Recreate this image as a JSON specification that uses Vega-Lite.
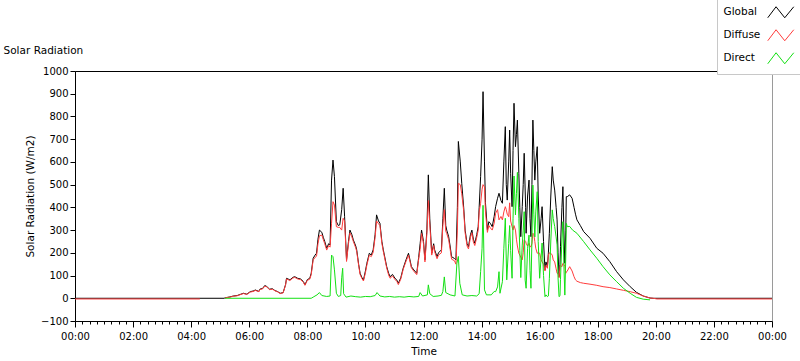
{
"$schema": "https://vega.github.io/schema/vega-lite/v6.json",
"width": 697, "height": 250,
"autosize": {"type": "none"},
"padding": {"left": 75, "top": 71, "right": 28, "bottom": 40},
"background": "white",
"config": {
 "view": {"stroke": "#9a9a9a", "strokeWidth": 1},
 "axis": {"grid": false, "labelFont": "DejaVu Sans", "titleFont": "DejaVu Sans", "labelColor": "#000", "titleColor": "#000", "domainColor": "#000", "tickColor": "#000", "titleFontWeight": "normal"}
},
"title": {"text": "Solar Radiation", "anchor": "start", "dx": -22, "dy": 66, "offset": 0, "baseline": "alphabetic", "fontSize": 10.5, "fontWeight": "normal", "font": "DejaVu Sans", "color": "#000"},
"data": {"values": [
{"s":"Global","t":"2024-01-01T00:00","v":0},{"s":"Global","t":"2024-01-01T05:08","v":0},{"s":"Global","t":"2024-01-01T05:10","v":2},{"s":"Global","t":"2024-01-01T05:20","v":6},{"s":"Global","t":"2024-01-01T05:27","v":10},{"s":"Global","t":"2024-01-01T05:35","v":12},{"s":"Global","t":"2024-01-01T05:48","v":22},{"s":"Global","t":"2024-01-01T05:55","v":18},{"s":"Global","t":"2024-01-01T06:02","v":29},{"s":"Global","t":"2024-01-01T06:10","v":33},{"s":"Global","t":"2024-01-01T06:12","v":37},{"s":"Global","t":"2024-01-01T06:20","v":30},{"s":"Global","t":"2024-01-01T06:22","v":40},{"s":"Global","t":"2024-01-01T06:28","v":44},{"s":"Global","t":"2024-01-01T06:32","v":56},{"s":"Global","t":"2024-01-01T06:36","v":52},{"s":"Global","t":"2024-01-01T06:42","v":40},{"s":"Global","t":"2024-01-01T06:48","v":42},{"s":"Global","t":"2024-01-01T06:53","v":34},{"s":"Global","t":"2024-01-01T06:58","v":30},{"s":"Global","t":"2024-01-01T07:04","v":22},{"s":"Global","t":"2024-01-01T07:10","v":25},{"s":"Global","t":"2024-01-01T07:15","v":60},{"s":"Global","t":"2024-01-01T07:17","v":88},{"s":"Global","t":"2024-01-01T07:24","v":81},{"s":"Global","t":"2024-01-01T07:30","v":92},{"s":"Global","t":"2024-01-01T07:34","v":95},{"s":"Global","t":"2024-01-01T07:40","v":88},{"s":"Global","t":"2024-01-01T07:46","v":85},{"s":"Global","t":"2024-01-01T07:52","v":73},{"s":"Global","t":"2024-01-01T07:55","v":59},{"s":"Global","t":"2024-01-01T08:00","v":82},{"s":"Global","t":"2024-01-01T08:05","v":88},{"s":"Global","t":"2024-01-01T08:08","v":110},{"s":"Global","t":"2024-01-01T08:12","v":176},{"s":"Global","t":"2024-01-01T08:16","v":190},{"s":"Global","t":"2024-01-01T08:19","v":198},{"s":"Global","t":"2024-01-01T08:22","v":260},{"s":"Global","t":"2024-01-01T08:25","v":300},{"s":"Global","t":"2024-01-01T08:30","v":290},{"s":"Global","t":"2024-01-01T08:33","v":268},{"s":"Global","t":"2024-01-01T08:36","v":250},{"s":"Global","t":"2024-01-01T08:40","v":220},{"s":"Global","t":"2024-01-01T08:44","v":240},{"s":"Global","t":"2024-01-01T08:47","v":235},{"s":"Global","t":"2024-01-01T08:50","v":520},{"s":"Global","t":"2024-01-01T08:53","v":608},{"s":"Global","t":"2024-01-01T08:56","v":535},{"s":"Global","t":"2024-01-01T09:00","v":337},{"s":"Global","t":"2024-01-01T09:04","v":320},{"s":"Global","t":"2024-01-01T09:07","v":323},{"s":"Global","t":"2024-01-01T09:11","v":390},{"s":"Global","t":"2024-01-01T09:14","v":484},{"s":"Global","t":"2024-01-01T09:17","v":359},{"s":"Global","t":"2024-01-01T09:21","v":169},{"s":"Global","t":"2024-01-01T09:25","v":250},{"s":"Global","t":"2024-01-01T09:28","v":300},{"s":"Global","t":"2024-01-01T09:32","v":280},{"s":"Global","t":"2024-01-01T09:35","v":257},{"s":"Global","t":"2024-01-01T09:40","v":230},{"s":"Global","t":"2024-01-01T09:42","v":213},{"s":"Global","t":"2024-01-01T09:46","v":150},{"s":"Global","t":"2024-01-01T09:49","v":110},{"s":"Global","t":"2024-01-01T09:53","v":90},{"s":"Global","t":"2024-01-01T09:56","v":81},{"s":"Global","t":"2024-01-01T10:00","v":120},{"s":"Global","t":"2024-01-01T10:03","v":154},{"s":"Global","t":"2024-01-01T10:08","v":198},{"s":"Global","t":"2024-01-01T10:12","v":190},{"s":"Global","t":"2024-01-01T10:16","v":213},{"s":"Global","t":"2024-01-01T10:20","v":280},{"s":"Global","t":"2024-01-01T10:23","v":367},{"s":"Global","t":"2024-01-01T10:27","v":340},{"s":"Global","t":"2024-01-01T10:30","v":330},{"s":"Global","t":"2024-01-01T10:34","v":250},{"s":"Global","t":"2024-01-01T10:37","v":213},{"s":"Global","t":"2024-01-01T10:42","v":160},{"s":"Global","t":"2024-01-01T10:44","v":139},{"s":"Global","t":"2024-01-01T10:48","v":110},{"s":"Global","t":"2024-01-01T10:51","v":95},{"s":"Global","t":"2024-01-01T10:56","v":105},{"s":"Global","t":"2024-01-01T11:01","v":88},{"s":"Global","t":"2024-01-01T11:05","v":80},{"s":"Global","t":"2024-01-01T11:08","v":66},{"s":"Global","t":"2024-01-01T11:13","v":90},{"s":"Global","t":"2024-01-01T11:18","v":132},{"s":"Global","t":"2024-01-01T11:24","v":170},{"s":"Global","t":"2024-01-01T11:29","v":198},{"s":"Global","t":"2024-01-01T11:33","v":160},{"s":"Global","t":"2024-01-01T11:35","v":139},{"s":"Global","t":"2024-01-01T11:40","v":125},{"s":"Global","t":"2024-01-01T11:46","v":110},{"s":"Global","t":"2024-01-01T11:50","v":180},{"s":"Global","t":"2024-01-01T11:53","v":240},{"s":"Global","t":"2024-01-01T11:56","v":300},{"s":"Global","t":"2024-01-01T12:00","v":250},{"s":"Global","t":"2024-01-01T12:03","v":169},{"s":"Global","t":"2024-01-01T12:07","v":300},{"s":"Global","t":"2024-01-01T12:10","v":543},{"s":"Global","t":"2024-01-01T12:13","v":350},{"s":"Global","t":"2024-01-01T12:17","v":198},{"s":"Global","t":"2024-01-01T12:21","v":240},{"s":"Global","t":"2024-01-01T12:23","v":213},{"s":"Global","t":"2024-01-01T12:28","v":183},{"s":"Global","t":"2024-01-01T12:31","v":200},{"s":"Global","t":"2024-01-01T12:37","v":213},{"s":"Global","t":"2024-01-01T12:40","v":350},{"s":"Global","t":"2024-01-01T12:43","v":484},{"s":"Global","t":"2024-01-01T12:46","v":320},{"s":"Global","t":"2024-01-01T12:48","v":300},{"s":"Global","t":"2024-01-01T12:52","v":271},{"s":"Global","t":"2024-01-01T12:55","v":230},{"s":"Global","t":"2024-01-01T12:58","v":183},{"s":"Global","t":"2024-01-01T13:04","v":175},{"s":"Global","t":"2024-01-01T13:07","v":169},{"s":"Global","t":"2024-01-01T13:10","v":400},{"s":"Global","t":"2024-01-01T13:12","v":690},{"s":"Global","t":"2024-01-01T13:16","v":600},{"s":"Global","t":"2024-01-01T13:19","v":506},{"s":"Global","t":"2024-01-01T13:23","v":400},{"s":"Global","t":"2024-01-01T13:26","v":300},{"s":"Global","t":"2024-01-01T13:30","v":240},{"s":"Global","t":"2024-01-01T13:33","v":227},{"s":"Global","t":"2024-01-01T13:37","v":280},{"s":"Global","t":"2024-01-01T13:40","v":300},{"s":"Global","t":"2024-01-01T13:43","v":260},{"s":"Global","t":"2024-01-01T13:46","v":242},{"s":"Global","t":"2024-01-01T13:50","v":280},{"s":"Global","t":"2024-01-01T13:53","v":315},{"s":"Global","t":"2024-01-01T13:55","v":400},{"s":"Global","t":"2024-01-01T13:58","v":535},{"s":"Global","t":"2024-01-01T14:01","v":700},{"s":"Global","t":"2024-01-01T14:03","v":909},{"s":"Global","t":"2024-01-01T14:06","v":600},{"s":"Global","t":"2024-01-01T14:08","v":420},{"s":"Global","t":"2024-01-01T14:12","v":300},{"s":"Global","t":"2024-01-01T14:15","v":337},{"s":"Global","t":"2024-01-01T14:18","v":330},{"s":"Global","t":"2024-01-01T14:22","v":315},{"s":"Global","t":"2024-01-01T14:26","v":360},{"s":"Global","t":"2024-01-01T14:29","v":403},{"s":"Global","t":"2024-01-01T14:33","v":440},{"s":"Global","t":"2024-01-01T14:36","v":462},{"s":"Global","t":"2024-01-01T14:40","v":430},{"s":"Global","t":"2024-01-01T14:43","v":418},{"s":"Global","t":"2024-01-01T14:46","v":600},{"s":"Global","t":"2024-01-01T14:49","v":755},{"s":"Global","t":"2024-01-01T14:51","v":500},{"s":"Global","t":"2024-01-01T14:53","v":432},{"s":"Global","t":"2024-01-01T14:56","v":600},{"s":"Global","t":"2024-01-01T14:58","v":740},{"s":"Global","t":"2024-01-01T15:00","v":550},{"s":"Global","t":"2024-01-01T15:03","v":403},{"s":"Global","t":"2024-01-01T15:05","v":650},{"s":"Global","t":"2024-01-01T15:07","v":858},{"s":"Global","t":"2024-01-01T15:10","v":667},{"s":"Global","t":"2024-01-01T15:12","v":720},{"s":"Global","t":"2024-01-01T15:14","v":784},{"s":"Global","t":"2024-01-01T15:17","v":550},{"s":"Global","t":"2024-01-01T15:19","v":400},{"s":"Global","t":"2024-01-01T15:21","v":271},{"s":"Global","t":"2024-01-01T15:24","v":403},{"s":"Global","t":"2024-01-01T15:26","v":500},{"s":"Global","t":"2024-01-01T15:28","v":638},{"s":"Global","t":"2024-01-01T15:31","v":400},{"s":"Global","t":"2024-01-01T15:32","v":286},{"s":"Global","t":"2024-01-01T15:35","v":450},{"s":"Global","t":"2024-01-01T15:38","v":520},{"s":"Global","t":"2024-01-01T15:40","v":350},{"s":"Global","t":"2024-01-01T15:42","v":271},{"s":"Global","t":"2024-01-01T15:44","v":500},{"s":"Global","t":"2024-01-01T15:46","v":784},{"s":"Global","t":"2024-01-01T15:48","v":650},{"s":"Global","t":"2024-01-01T15:50","v":520},{"s":"Global","t":"2024-01-01T15:52","v":600},{"s":"Global","t":"2024-01-01T15:55","v":667},{"s":"Global","t":"2024-01-01T15:57","v":450},{"s":"Global","t":"2024-01-01T16:00","v":286},{"s":"Global","t":"2024-01-01T16:03","v":350},{"s":"Global","t":"2024-01-01T16:05","v":403},{"s":"Global","t":"2024-01-01T16:08","v":250},{"s":"Global","t":"2024-01-01T16:11","v":125},{"s":"Global","t":"2024-01-01T16:13","v":160},{"s":"Global","t":"2024-01-01T16:16","v":139},{"s":"Global","t":"2024-01-01T16:18","v":200},{"s":"Global","t":"2024-01-01T16:20","v":286},{"s":"Global","t":"2024-01-01T16:23","v":450},{"s":"Global","t":"2024-01-01T16:26","v":579},{"s":"Global","t":"2024-01-01T16:28","v":520},{"s":"Global","t":"2024-01-01T16:31","v":476},{"s":"Global","t":"2024-01-01T16:34","v":400},{"s":"Global","t":"2024-01-01T16:36","v":345},{"s":"Global","t":"2024-01-01T16:38","v":200},{"s":"Global","t":"2024-01-01T16:40","v":95},{"s":"Global","t":"2024-01-01T16:42","v":150},{"s":"Global","t":"2024-01-01T16:43","v":227},{"s":"Global","t":"2024-01-01T16:46","v":400},{"s":"Global","t":"2024-01-01T16:48","v":491},{"s":"Global","t":"2024-01-01T16:50","v":300},{"s":"Global","t":"2024-01-01T16:52","v":154},{"s":"Global","t":"2024-01-01T16:54","v":300},{"s":"Global","t":"2024-01-01T16:55","v":447},{"s":"Global","t":"2024-01-01T16:57","v":447},{"s":"Global","t":"2024-01-01T17:02","v":455},{"s":"Global","t":"2024-01-01T17:07","v":440},{"s":"Global","t":"2024-01-01T17:11","v":400},{"s":"Global","t":"2024-01-01T17:14","v":370},{"s":"Global","t":"2024-01-01T17:17","v":345},{"s":"Global","t":"2024-01-01T17:24","v":320},{"s":"Global","t":"2024-01-01T17:31","v":293},{"s":"Global","t":"2024-01-01T17:44","v":264},{"s":"Global","t":"2024-01-01T17:58","v":220},{"s":"Global","t":"2024-01-01T18:11","v":198},{"s":"Global","t":"2024-01-01T18:25","v":161},{"s":"Global","t":"2024-01-01T18:39","v":117},{"s":"Global","t":"2024-01-01T18:53","v":81},{"s":"Global","t":"2024-01-01T19:07","v":51},{"s":"Global","t":"2024-01-01T19:20","v":26},{"s":"Global","t":"2024-01-01T19:34","v":10},{"s":"Global","t":"2024-01-01T19:48","v":1},{"s":"Global","t":"2024-01-01T19:55","v":0},{"s":"Global","t":"2024-01-02T00:00","v":0},
{"s":"Diffuse","p":1,"t":"2024-01-01T00:00","v":-3},{"s":"Diffuse","p":1,"t":"2024-01-01T04:18","v":-3},{"s":"Diffuse","p":2,"t":"2024-01-01T05:10","v":2},{"s":"Diffuse","p":2,"t":"2024-01-01T05:20","v":5},{"s":"Diffuse","p":2,"t":"2024-01-01T05:27","v":9},{"s":"Diffuse","p":2,"t":"2024-01-01T05:35","v":11},{"s":"Diffuse","p":2,"t":"2024-01-01T05:48","v":21},{"s":"Diffuse","p":2,"t":"2024-01-01T05:55","v":17},{"s":"Diffuse","p":2,"t":"2024-01-01T06:02","v":27},{"s":"Diffuse","p":2,"t":"2024-01-01T06:10","v":31},{"s":"Diffuse","p":2,"t":"2024-01-01T06:12","v":35},{"s":"Diffuse","p":2,"t":"2024-01-01T06:20","v":29},{"s":"Diffuse","p":2,"t":"2024-01-01T06:22","v":38},{"s":"Diffuse","p":2,"t":"2024-01-01T06:28","v":42},{"s":"Diffuse","p":2,"t":"2024-01-01T06:32","v":53},{"s":"Diffuse","p":2,"t":"2024-01-01T06:36","v":50},{"s":"Diffuse","p":2,"t":"2024-01-01T06:42","v":38},{"s":"Diffuse","p":2,"t":"2024-01-01T06:48","v":40},{"s":"Diffuse","p":2,"t":"2024-01-01T06:53","v":33},{"s":"Diffuse","p":2,"t":"2024-01-01T06:58","v":29},{"s":"Diffuse","p":2,"t":"2024-01-01T07:04","v":21},{"s":"Diffuse","p":2,"t":"2024-01-01T07:10","v":24},{"s":"Diffuse","p":2,"t":"2024-01-01T07:15","v":58},{"s":"Diffuse","p":2,"t":"2024-01-01T07:17","v":85},{"s":"Diffuse","p":2,"t":"2024-01-01T07:24","v":78},{"s":"Diffuse","p":2,"t":"2024-01-01T07:30","v":89},{"s":"Diffuse","p":2,"t":"2024-01-01T07:34","v":92},{"s":"Diffuse","p":2,"t":"2024-01-01T07:40","v":85},{"s":"Diffuse","p":2,"t":"2024-01-01T07:46","v":82},{"s":"Diffuse","p":2,"t":"2024-01-01T07:52","v":70},{"s":"Diffuse","p":2,"t":"2024-01-01T07:55","v":57},{"s":"Diffuse","p":2,"t":"2024-01-01T08:00","v":79},{"s":"Diffuse","p":2,"t":"2024-01-01T08:05","v":84},{"s":"Diffuse","p":2,"t":"2024-01-01T08:08","v":104},{"s":"Diffuse","p":2,"t":"2024-01-01T08:12","v":168},{"s":"Diffuse","p":2,"t":"2024-01-01T08:16","v":180},{"s":"Diffuse","p":2,"t":"2024-01-01T08:19","v":185},{"s":"Diffuse","p":2,"t":"2024-01-01T08:22","v":240},{"s":"Diffuse","p":2,"t":"2024-01-01T08:25","v":275},{"s":"Diffuse","p":2,"t":"2024-01-01T08:30","v":278},{"s":"Diffuse","p":2,"t":"2024-01-01T08:33","v":258},{"s":"Diffuse","p":2,"t":"2024-01-01T08:36","v":240},{"s":"Diffuse","p":2,"t":"2024-01-01T08:40","v":212},{"s":"Diffuse","p":2,"t":"2024-01-01T08:44","v":232},{"s":"Diffuse","p":2,"t":"2024-01-01T08:47","v":225},{"s":"Diffuse","p":2,"t":"2024-01-01T08:50","v":330},{"s":"Diffuse","p":2,"t":"2024-01-01T08:53","v":425},{"s":"Diffuse","p":2,"t":"2024-01-01T08:56","v":410},{"s":"Diffuse","p":2,"t":"2024-01-01T09:00","v":315},{"s":"Diffuse","p":2,"t":"2024-01-01T09:04","v":312},{"s":"Diffuse","p":2,"t":"2024-01-01T09:07","v":312},{"s":"Diffuse","p":2,"t":"2024-01-01T09:11","v":300},{"s":"Diffuse","p":2,"t":"2024-01-01T09:14","v":352},{"s":"Diffuse","p":2,"t":"2024-01-01T09:17","v":340},{"s":"Diffuse","p":2,"t":"2024-01-01T09:21","v":162},{"s":"Diffuse","p":2,"t":"2024-01-01T09:25","v":240},{"s":"Diffuse","p":2,"t":"2024-01-01T09:28","v":288},{"s":"Diffuse","p":2,"t":"2024-01-01T09:32","v":270},{"s":"Diffuse","p":2,"t":"2024-01-01T09:35","v":250},{"s":"Diffuse","p":2,"t":"2024-01-01T09:40","v":222},{"s":"Diffuse","p":2,"t":"2024-01-01T09:42","v":206},{"s":"Diffuse","p":2,"t":"2024-01-01T09:46","v":145},{"s":"Diffuse","p":2,"t":"2024-01-01T09:49","v":105},{"s":"Diffuse","p":2,"t":"2024-01-01T09:53","v":86},{"s":"Diffuse","p":2,"t":"2024-01-01T09:56","v":76},{"s":"Diffuse","p":2,"t":"2024-01-01T10:00","v":112},{"s":"Diffuse","p":2,"t":"2024-01-01T10:03","v":146},{"s":"Diffuse","p":2,"t":"2024-01-01T10:08","v":190},{"s":"Diffuse","p":2,"t":"2024-01-01T10:12","v":183},{"s":"Diffuse","p":2,"t":"2024-01-01T10:16","v":202},{"s":"Diffuse","p":2,"t":"2024-01-01T10:20","v":268},{"s":"Diffuse","p":2,"t":"2024-01-01T10:23","v":340},{"s":"Diffuse","p":2,"t":"2024-01-01T10:27","v":328},{"s":"Diffuse","p":2,"t":"2024-01-01T10:30","v":320},{"s":"Diffuse","p":2,"t":"2024-01-01T10:34","v":242},{"s":"Diffuse","p":2,"t":"2024-01-01T10:37","v":206},{"s":"Diffuse","p":2,"t":"2024-01-01T10:42","v":154},{"s":"Diffuse","p":2,"t":"2024-01-01T10:44","v":133},{"s":"Diffuse","p":2,"t":"2024-01-01T10:48","v":102},{"s":"Diffuse","p":2,"t":"2024-01-01T10:51","v":88},{"s":"Diffuse","p":2,"t":"2024-01-01T10:56","v":98},{"s":"Diffuse","p":2,"t":"2024-01-01T11:01","v":83},{"s":"Diffuse","p":2,"t":"2024-01-01T11:05","v":74},{"s":"Diffuse","p":2,"t":"2024-01-01T11:08","v":60},{"s":"Diffuse","p":2,"t":"2024-01-01T11:13","v":84},{"s":"Diffuse","p":2,"t":"2024-01-01T11:18","v":127},{"s":"Diffuse","p":2,"t":"2024-01-01T11:24","v":163},{"s":"Diffuse","p":2,"t":"2024-01-01T11:29","v":190},{"s":"Diffuse","p":2,"t":"2024-01-01T11:33","v":153},{"s":"Diffuse","p":2,"t":"2024-01-01T11:35","v":134},{"s":"Diffuse","p":2,"t":"2024-01-01T11:40","v":119},{"s":"Diffuse","p":2,"t":"2024-01-01T11:46","v":104},{"s":"Diffuse","p":2,"t":"2024-01-01T11:50","v":172},{"s":"Diffuse","p":2,"t":"2024-01-01T11:53","v":215},{"s":"Diffuse","p":2,"t":"2024-01-01T11:56","v":285},{"s":"Diffuse","p":2,"t":"2024-01-01T12:00","v":240},{"s":"Diffuse","p":2,"t":"2024-01-01T12:03","v":160},{"s":"Diffuse","p":2,"t":"2024-01-01T12:07","v":285},{"s":"Diffuse","p":2,"t":"2024-01-01T12:10","v":430},{"s":"Diffuse","p":2,"t":"2024-01-01T12:13","v":325},{"s":"Diffuse","p":2,"t":"2024-01-01T12:17","v":190},{"s":"Diffuse","p":2,"t":"2024-01-01T12:21","v":232},{"s":"Diffuse","p":2,"t":"2024-01-01T12:23","v":205},{"s":"Diffuse","p":2,"t":"2024-01-01T12:28","v":174},{"s":"Diffuse","p":2,"t":"2024-01-01T12:31","v":190},{"s":"Diffuse","p":2,"t":"2024-01-01T12:37","v":200},{"s":"Diffuse","p":2,"t":"2024-01-01T12:40","v":320},{"s":"Diffuse","p":2,"t":"2024-01-01T12:43","v":390},{"s":"Diffuse","p":2,"t":"2024-01-01T12:46","v":295},{"s":"Diffuse","p":2,"t":"2024-01-01T12:48","v":285},{"s":"Diffuse","p":2,"t":"2024-01-01T12:52","v":258},{"s":"Diffuse","p":2,"t":"2024-01-01T12:55","v":216},{"s":"Diffuse","p":2,"t":"2024-01-01T12:58","v":172},{"s":"Diffuse","p":2,"t":"2024-01-01T13:04","v":165},{"s":"Diffuse","p":2,"t":"2024-01-01T13:07","v":150},{"s":"Diffuse","p":2,"t":"2024-01-01T13:10","v":300},{"s":"Diffuse","p":2,"t":"2024-01-01T13:12","v":506},{"s":"Diffuse","p":2,"t":"2024-01-01T13:16","v":500},{"s":"Diffuse","p":2,"t":"2024-01-01T13:19","v":460},{"s":"Diffuse","p":2,"t":"2024-01-01T13:23","v":385},{"s":"Diffuse","p":2,"t":"2024-01-01T13:26","v":288},{"s":"Diffuse","p":2,"t":"2024-01-01T13:30","v":230},{"s":"Diffuse","p":2,"t":"2024-01-01T13:33","v":217},{"s":"Diffuse","p":2,"t":"2024-01-01T13:37","v":268},{"s":"Diffuse","p":2,"t":"2024-01-01T13:40","v":288},{"s":"Diffuse","p":2,"t":"2024-01-01T13:43","v":248},{"s":"Diffuse","p":2,"t":"2024-01-01T13:46","v":232},{"s":"Diffuse","p":2,"t":"2024-01-01T13:50","v":268},{"s":"Diffuse","p":2,"t":"2024-01-01T13:53","v":300},{"s":"Diffuse","p":2,"t":"2024-01-01T13:55","v":380},{"s":"Diffuse","p":2,"t":"2024-01-01T13:58","v":418},{"s":"Diffuse","p":2,"t":"2024-01-01T14:01","v":480},{"s":"Diffuse","p":2,"t":"2024-01-01T14:03","v":500},{"s":"Diffuse","p":2,"t":"2024-01-01T14:06","v":490},{"s":"Diffuse","p":2,"t":"2024-01-01T14:08","v":380},{"s":"Diffuse","p":2,"t":"2024-01-01T14:12","v":290},{"s":"Diffuse","p":2,"t":"2024-01-01T14:15","v":320},{"s":"Diffuse","p":2,"t":"2024-01-01T14:18","v":310},{"s":"Diffuse","p":2,"t":"2024-01-01T14:22","v":300},{"s":"Diffuse","p":2,"t":"2024-01-01T14:26","v":330},{"s":"Diffuse","p":2,"t":"2024-01-01T14:29","v":374},{"s":"Diffuse","p":2,"t":"2024-01-01T14:33","v":390},{"s":"Diffuse","p":2,"t":"2024-01-01T14:36","v":345},{"s":"Diffuse","p":2,"t":"2024-01-01T14:40","v":360},{"s":"Diffuse","p":2,"t":"2024-01-01T14:43","v":345},{"s":"Diffuse","p":2,"t":"2024-01-01T14:46","v":380},{"s":"Diffuse","p":2,"t":"2024-01-01T14:49","v":403},{"s":"Diffuse","p":2,"t":"2024-01-01T14:51","v":390},{"s":"Diffuse","p":2,"t":"2024-01-01T14:53","v":370},{"s":"Diffuse","p":2,"t":"2024-01-01T14:56","v":359},{"s":"Diffuse","p":2,"t":"2024-01-01T14:58","v":420},{"s":"Diffuse","p":2,"t":"2024-01-01T15:00","v":340},{"s":"Diffuse","p":2,"t":"2024-01-01T15:03","v":315},{"s":"Diffuse","p":2,"t":"2024-01-01T15:05","v":300},{"s":"Diffuse","p":2,"t":"2024-01-01T15:07","v":320},{"s":"Diffuse","p":2,"t":"2024-01-01T15:10","v":300},{"s":"Diffuse","p":2,"t":"2024-01-01T15:12","v":260},{"s":"Diffuse","p":2,"t":"2024-01-01T15:14","v":230},{"s":"Diffuse","p":2,"t":"2024-01-01T15:17","v":198},{"s":"Diffuse","p":2,"t":"2024-01-01T15:19","v":190},{"s":"Diffuse","p":2,"t":"2024-01-01T15:21","v":180},{"s":"Diffuse","p":2,"t":"2024-01-01T15:24","v":169},{"s":"Diffuse","p":2,"t":"2024-01-01T15:26","v":200},{"s":"Diffuse","p":2,"t":"2024-01-01T15:28","v":257},{"s":"Diffuse","p":2,"t":"2024-01-01T15:31","v":250},{"s":"Diffuse","p":2,"t":"2024-01-01T15:32","v":242},{"s":"Diffuse","p":2,"t":"2024-01-01T15:35","v":230},{"s":"Diffuse","p":2,"t":"2024-01-01T15:38","v":242},{"s":"Diffuse","p":2,"t":"2024-01-01T15:40","v":227},{"s":"Diffuse","p":2,"t":"2024-01-01T15:42","v":227},{"s":"Diffuse","p":2,"t":"2024-01-01T15:44","v":240},{"s":"Diffuse","p":2,"t":"2024-01-01T15:46","v":286},{"s":"Diffuse","p":2,"t":"2024-01-01T15:48","v":280},{"s":"Diffuse","p":2,"t":"2024-01-01T15:50","v":250},{"s":"Diffuse","p":2,"t":"2024-01-01T15:52","v":220},{"s":"Diffuse","p":2,"t":"2024-01-01T15:55","v":198},{"s":"Diffuse","p":2,"t":"2024-01-01T15:57","v":200},{"s":"Diffuse","p":2,"t":"2024-01-01T16:00","v":198},{"s":"Diffuse","p":2,"t":"2024-01-01T16:03","v":169},{"s":"Diffuse","p":2,"t":"2024-01-01T16:05","v":160},{"s":"Diffuse","p":2,"t":"2024-01-01T16:08","v":150},{"s":"Diffuse","p":2,"t":"2024-01-01T16:11","v":120},{"s":"Diffuse","p":2,"t":"2024-01-01T16:13","v":145},{"s":"Diffuse","p":2,"t":"2024-01-01T16:16","v":132},{"s":"Diffuse","p":2,"t":"2024-01-01T16:18","v":190},{"s":"Diffuse","p":2,"t":"2024-01-01T16:20","v":200},{"s":"Diffuse","p":2,"t":"2024-01-01T16:23","v":198},{"s":"Diffuse","p":2,"t":"2024-01-01T16:26","v":190},{"s":"Diffuse","p":2,"t":"2024-01-01T16:28","v":169},{"s":"Diffuse","p":2,"t":"2024-01-01T16:31","v":160},{"s":"Diffuse","p":2,"t":"2024-01-01T16:34","v":130},{"s":"Diffuse","p":2,"t":"2024-01-01T16:36","v":110},{"s":"Diffuse","p":2,"t":"2024-01-01T16:38","v":110},{"s":"Diffuse","p":2,"t":"2024-01-01T16:40","v":90},{"s":"Diffuse","p":2,"t":"2024-01-01T16:42","v":139},{"s":"Diffuse","p":2,"t":"2024-01-01T16:43","v":145},{"s":"Diffuse","p":2,"t":"2024-01-01T16:46","v":139},{"s":"Diffuse","p":2,"t":"2024-01-01T16:48","v":154},{"s":"Diffuse","p":2,"t":"2024-01-01T16:50","v":150},{"s":"Diffuse","p":2,"t":"2024-01-01T16:52","v":140},{"s":"Diffuse","p":2,"t":"2024-01-01T16:54","v":110},{"s":"Diffuse","p":2,"t":"2024-01-01T16:55","v":115},{"s":"Diffuse","p":2,"t":"2024-01-01T16:57","v":120},{"s":"Diffuse","p":2,"t":"2024-01-01T17:02","v":139},{"s":"Diffuse","p":2,"t":"2024-01-01T17:07","v":120},{"s":"Diffuse","p":2,"t":"2024-01-01T17:11","v":95},{"s":"Diffuse","p":2,"t":"2024-01-01T17:14","v":81},{"s":"Diffuse","p":2,"t":"2024-01-01T17:17","v":75},{"s":"Diffuse","p":2,"t":"2024-01-01T17:24","v":69},{"s":"Diffuse","p":2,"t":"2024-01-01T17:31","v":66},{"s":"Diffuse","p":2,"t":"2024-01-01T17:44","v":62},{"s":"Diffuse","p":2,"t":"2024-01-01T17:58","v":57},{"s":"Diffuse","p":2,"t":"2024-01-01T18:11","v":51},{"s":"Diffuse","p":2,"t":"2024-01-01T18:25","v":47},{"s":"Diffuse","p":2,"t":"2024-01-01T18:39","v":41},{"s":"Diffuse","p":2,"t":"2024-01-01T18:53","v":35},{"s":"Diffuse","p":2,"t":"2024-01-01T19:07","v":29},{"s":"Diffuse","p":2,"t":"2024-01-01T19:20","v":22},{"s":"Diffuse","p":2,"t":"2024-01-01T19:34","v":10},{"s":"Diffuse","p":2,"t":"2024-01-01T19:48","v":1},{"s":"Diffuse","p":2,"t":"2024-01-01T19:55","v":0},{"s":"Diffuse","p":2,"t":"2024-01-01T20:02","v":-3},{"s":"Diffuse","p":2,"t":"2024-01-02T00:00","v":-3},
{"s":"Direct","t":"2024-01-01T05:10","v":0},{"s":"Direct","t":"2024-01-01T08:08","v":0},{"s":"Direct","t":"2024-01-01T08:12","v":5},{"s":"Direct","t":"2024-01-01T08:20","v":15},{"s":"Direct","t":"2024-01-01T08:25","v":25},{"s":"Direct","t":"2024-01-01T08:30","v":12},{"s":"Direct","t":"2024-01-01T08:40","v":8},{"s":"Direct","t":"2024-01-01T08:47","v":10},{"s":"Direct","t":"2024-01-01T08:50","v":190},{"s":"Direct","t":"2024-01-01T08:53","v":183},{"s":"Direct","t":"2024-01-01T08:56","v":125},{"s":"Direct","t":"2024-01-01T09:00","v":22},{"s":"Direct","t":"2024-01-01T09:04","v":8},{"s":"Direct","t":"2024-01-01T09:09","v":12},{"s":"Direct","t":"2024-01-01T09:11","v":90},{"s":"Direct","t":"2024-01-01T09:13","v":132},{"s":"Direct","t":"2024-01-01T09:15","v":20},{"s":"Direct","t":"2024-01-01T09:20","v":5},{"s":"Direct","t":"2024-01-01T09:30","v":10},{"s":"Direct","t":"2024-01-01T09:40","v":7},{"s":"Direct","t":"2024-01-01T09:50","v":5},{"s":"Direct","t":"2024-01-01T10:00","v":8},{"s":"Direct","t":"2024-01-01T10:10","v":7},{"s":"Direct","t":"2024-01-01T10:20","v":12},{"s":"Direct","t":"2024-01-01T10:24","v":25},{"s":"Direct","t":"2024-01-01T10:30","v":10},{"s":"Direct","t":"2024-01-01T10:40","v":6},{"s":"Direct","t":"2024-01-01T10:50","v":8},{"s":"Direct","t":"2024-01-01T11:00","v":5},{"s":"Direct","t":"2024-01-01T11:10","v":7},{"s":"Direct","t":"2024-01-01T11:20","v":5},{"s":"Direct","t":"2024-01-01T11:30","v":8},{"s":"Direct","t":"2024-01-01T11:40","v":6},{"s":"Direct","t":"2024-01-01T11:50","v":8},{"s":"Direct","t":"2024-01-01T11:53","v":25},{"s":"Direct","t":"2024-01-01T11:58","v":10},{"s":"Direct","t":"2024-01-01T12:08","v":15},{"s":"Direct","t":"2024-01-01T12:10","v":59},{"s":"Direct","t":"2024-01-01T12:13","v":20},{"s":"Direct","t":"2024-01-01T12:20","v":8},{"s":"Direct","t":"2024-01-01T12:30","v":10},{"s":"Direct","t":"2024-01-01T12:37","v":13},{"s":"Direct","t":"2024-01-01T12:40","v":30},{"s":"Direct","t":"2024-01-01T12:43","v":94},{"s":"Direct","t":"2024-01-01T12:46","v":25},{"s":"Direct","t":"2024-01-01T12:55","v":15},{"s":"Direct","t":"2024-01-01T13:05","v":10},{"s":"Direct","t":"2024-01-01T13:09","v":154},{"s":"Direct","t":"2024-01-01T13:12","v":184},{"s":"Direct","t":"2024-01-01T13:15","v":66},{"s":"Direct","t":"2024-01-01T13:20","v":15},{"s":"Direct","t":"2024-01-01T13:30","v":10},{"s":"Direct","t":"2024-01-01T13:40","v":12},{"s":"Direct","t":"2024-01-01T13:50","v":10},{"s":"Direct","t":"2024-01-01T13:55","v":20},{"s":"Direct","t":"2024-01-01T13:58","v":117},{"s":"Direct","t":"2024-01-01T14:01","v":220},{"s":"Direct","t":"2024-01-01T14:03","v":409},{"s":"Direct","t":"2024-01-01T14:06","v":37},{"s":"Direct","t":"2024-01-01T14:10","v":15},{"s":"Direct","t":"2024-01-01T14:20","v":15},{"s":"Direct","t":"2024-01-01T14:26","v":30},{"s":"Direct","t":"2024-01-01T14:29","v":29},{"s":"Direct","t":"2024-01-01T14:33","v":50},{"s":"Direct","t":"2024-01-01T14:36","v":117},{"s":"Direct","t":"2024-01-01T14:38","v":22},{"s":"Direct","t":"2024-01-01T14:43","v":73},{"s":"Direct","t":"2024-01-01T14:46","v":220},{"s":"Direct","t":"2024-01-01T14:49","v":352},{"s":"Direct","t":"2024-01-01T14:52","v":81},{"s":"Direct","t":"2024-01-01T14:56","v":241},{"s":"Direct","t":"2024-01-01T14:58","v":320},{"s":"Direct","t":"2024-01-01T15:00","v":210},{"s":"Direct","t":"2024-01-01T15:03","v":88},{"s":"Direct","t":"2024-01-01T15:05","v":350},{"s":"Direct","t":"2024-01-01T15:07","v":538},{"s":"Direct","t":"2024-01-01T15:10","v":367},{"s":"Direct","t":"2024-01-01T15:12","v":460},{"s":"Direct","t":"2024-01-01T15:14","v":554},{"s":"Direct","t":"2024-01-01T15:17","v":352},{"s":"Direct","t":"2024-01-01T15:19","v":210},{"s":"Direct","t":"2024-01-01T15:21","v":91},{"s":"Direct","t":"2024-01-01T15:24","v":234},{"s":"Direct","t":"2024-01-01T15:26","v":300},{"s":"Direct","t":"2024-01-01T15:28","v":381},{"s":"Direct","t":"2024-01-01T15:30","v":80},{"s":"Direct","t":"2024-01-01T15:32","v":44},{"s":"Direct","t":"2024-01-01T15:35","v":220},{"s":"Direct","t":"2024-01-01T15:38","v":278},{"s":"Direct","t":"2024-01-01T15:40","v":123},{"s":"Direct","t":"2024-01-01T15:42","v":44},{"s":"Direct","t":"2024-01-01T15:44","v":260},{"s":"Direct","t":"2024-01-01T15:46","v":498},{"s":"Direct","t":"2024-01-01T15:48","v":370},{"s":"Direct","t":"2024-01-01T15:50","v":270},{"s":"Direct","t":"2024-01-01T15:52","v":380},{"s":"Direct","t":"2024-01-01T15:55","v":469},{"s":"Direct","t":"2024-01-01T15:57","v":250},{"s":"Direct","t":"2024-01-01T16:00","v":88},{"s":"Direct","t":"2024-01-01T16:03","v":181},{"s":"Direct","t":"2024-01-01T16:05","v":243},{"s":"Direct","t":"2024-01-01T16:08","v":100},{"s":"Direct","t":"2024-01-01T16:11","v":7},{"s":"Direct","t":"2024-01-01T16:13","v":15},{"s":"Direct","t":"2024-01-01T16:16","v":7},{"s":"Direct","t":"2024-01-01T16:18","v":10},{"s":"Direct","t":"2024-01-01T16:20","v":86},{"s":"Direct","t":"2024-01-01T16:23","v":252},{"s":"Direct","t":"2024-01-01T16:26","v":389},{"s":"Direct","t":"2024-01-01T16:28","v":351},{"s":"Direct","t":"2024-01-01T16:31","v":316},{"s":"Direct","t":"2024-01-01T16:34","v":270},{"s":"Direct","t":"2024-01-01T16:36","v":235},{"s":"Direct","t":"2024-01-01T16:38","v":90},{"s":"Direct","t":"2024-01-01T16:40","v":7},{"s":"Direct","t":"2024-01-01T16:42","v":11},{"s":"Direct","t":"2024-01-01T16:43","v":82},{"s":"Direct","t":"2024-01-01T16:46","v":261},{"s":"Direct","t":"2024-01-01T16:48","v":337},{"s":"Direct","t":"2024-01-01T16:50","v":150},{"s":"Direct","t":"2024-01-01T16:52","v":14},{"s":"Direct","t":"2024-01-01T16:54","v":190},{"s":"Direct","t":"2024-01-01T16:55","v":330},{"s":"Direct","t":"2024-01-01T16:57","v":315},{"s":"Direct","t":"2024-01-01T17:02","v":316},{"s":"Direct","t":"2024-01-01T17:08","v":300},{"s":"Direct","t":"2024-01-01T17:17","v":286},{"s":"Direct","t":"2024-01-01T17:31","v":249},{"s":"Direct","t":"2024-01-01T17:44","v":213},{"s":"Direct","t":"2024-01-01T17:58","v":176},{"s":"Direct","t":"2024-01-01T18:11","v":139},{"s":"Direct","t":"2024-01-01T18:25","v":103},{"s":"Direct","t":"2024-01-01T18:39","v":73},{"s":"Direct","t":"2024-01-01T18:53","v":44},{"s":"Direct","t":"2024-01-01T19:07","v":22},{"s":"Direct","t":"2024-01-01T19:20","v":4},{"s":"Direct","t":"2024-01-01T19:34","v":-4},{"s":"Direct","t":"2024-01-01T19:48","v":-7}
]},
"encoding": {
 "x": {"field": "t", "type": "temporal", "scale": {"nice": false},
  "axis": {"title": "Time", "titleFontSize": 10.5, "titlePadding": 5, "labelFontSize": 10, "labelPadding": 4, "labelOverlap": false, "labelFlush": false, "tickCount": 96,
   "tickSize": {"condition": {"test": "hours(datum.value) % 2 == 0 && minutes(datum.value) == 0", "value": 6}, "value": 3},
   "labelExpr": "hours(datum.value) % 2 == 0 && minutes(datum.value) == 0 ? timeFormat(datum.value, '%H:%M') : ''"}},
 "y": {"field": "v", "type": "quantitative",
  "scale": {"domain": [-100, 1000], "nice": false, "zero": false},
  "axis": {"title": "Solar Radiation (W/m2)", "titleFontSize": 10.5, "titlePadding": 5, "labelFontSize": 10, "labelPadding": 2, "tickSize": 5, "format": "d", "values": [-100, 0, 100, 200, 300, 400, 500, 600, 700, 800, 900, 1000]}},
 "color": {"field": "s", "type": "nominal",
  "scale": {"domain": ["Global", "Diffuse", "Direct"], "range": ["#000000", "#ff3c3c", "#13e013"]},
  "legend": {"orient": "none", "legendX": 642, "legendY": -72, "title": null, "padding": 8,
   "symbolType": "M37.5,5.5L45.8,-5.5L54.5,5.5L63.5,-5.5", "symbolSize": 4, "symbolStrokeWidth": 1,
   "labelFont": "DejaVu Sans", "labelFontSize": 10.5, "labelColor": "#000", "labelOffset": -12, "rowPadding": 7,
   "fillColor": "white", "strokeColor": "#c8c8c8"}}
},
"layer": [
 {"transform": [{"filter": "datum.s == 'Global'"}], "mark": {"type": "line", "strokeWidth": 1}},
 {"transform": [{"filter": "datum.s == 'Diffuse'"}], "mark": {"type": "line", "strokeWidth": 1},
  "encoding": {"detail": {"field": "p", "type": "nominal"},
   "x": {"field": "t", "type": "temporal", "scale": {"nice": false}, "axis": {"orient": "top", "domain": true, "domainColor": "#000", "ticks": false, "labels": false, "title": null}}}},
 {"transform": [{"filter": "datum.s == 'Direct'"}], "mark": {"type": "line", "strokeWidth": 1},
  "encoding": {"x": {"field": "t", "type": "temporal", "scale": {"nice": false}, "axis": null}}}
],
"resolve": {"axis": {"x": "independent"}}
}
